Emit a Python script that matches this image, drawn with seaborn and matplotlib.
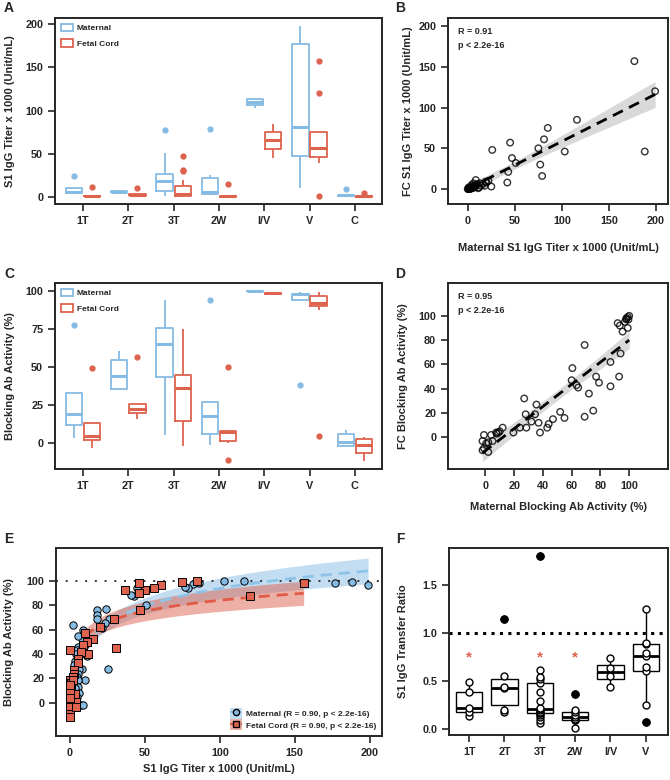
import numpy as np
import pandas as pd
import seaborn as sns
from matplotlib import pyplot as plt
from matplotlib.lines import Line2D
from matplotlib.patches import Patch

GROUPS = ["1T", "2T", "3T", "2W", "I/V", "V", "C"]
RATIO_GROUPS = ["1T", "2T", "3T", "2W", "I/V", "V"]
SOURCES = ["Maternal", "Fetal Cord"]
BLUE = "#86BCE4"
RED = "#DD634E"

# A: S1 IgG titer x 1000, one list per group (order of GROUPS)
titer_maternal = [
    [3, 3.5, 4.3, 4.8, 5.4, 7, 10.8, 11, 24],
    [5, 5.5, 6, 6.5, 7],
    [1.5, 4, 7, 12, 18.5, 22, 26.6, 51, 77],
    [2, 3, 4, 5, 6, 12, 21.6, 25, 79],
    [103, 106, 109.5, 113, 115],
    [10.8, 47.4, 81, 176.5, 198],
    [1, 1.2, 1.5, 1.8, 2, 2.2, 2.5, 3, 9],
]
titer_fetal = [
    [0.3, 0.5, 0.8, 1, 1.2, 1.5, 1.8, 2, 12],
    [1.5, 2, 2.2, 2.5, 2.8, 3, 3.3, 3.6, 10],
    [0.5, 0.8, 1, 1.2, 1.5, 2, 2.5, 3, 3.5, 5, 8, 10, 12.5, 20, 30, 31.5, 47],
    [0.3, 0.5, 0.6, 0.8, 1, 1.2, 1.5, 2, 15],
    [45, 55, 66, 75, 85],
    [1, 39, 46, 50, 57, 65, 75, 120, 157],
    [0.2, 0.4, 0.6, 0.8, 1, 1.2, 1.4, 1.6, 4.5],
]

# C: blocking Ab activity (%), one list per group
block_maternal = [
    [3.3, 8, 12, 15, 19.2, 26, 32.7, 32.7, 77.5],
    [35, 35.4, 44, 54.5, 60.6],
    [5.4, 43.6, 64.8, 75.7, 93.8],
    [-1.1, 3, 6, 12, 17.9, 25, 27.3, 27.6, 93.8],
    [99.5, 99.7, 99.8, 99.9, 100],
    [38.2, 93.5, 94.3, 96, 97.8, 98, 98.2, 99.5, 99.5],
    [-1.6, -1.6, 1, 5.9, 8.7],
]
block_fetal = [
    [-3.3, 0, 2.2, 3, 4.4, 8, 13, 13, 49.5],
    [15.7, 18, 19.6, 21, 22.7, 24, 26, 26, 56.7],
    [-2.2, 14.6, 36.4, 44.7, 75.3],
    [-11.4, 0, 1.5, 5, 7.3, 7.6, 8, 8, 50.2],
    [98, 98.2, 98.4, 98.6, 98.8],
    [4.8, 87.3, 89.9, 91, 92.2, 94, 96.5, 99.5, 99.5],
    [-12, -6.5, -1.3, 2.6, 3.9],
]

# B: paired titers
b_maternal = [177, 199, 188, 116, 85, 81, 75, 103, 77, 79, 45, 26, 47, 51, 43, 42,
              25, 8.5, 18, 22, 20, 0, 1, 2, 3, 1, 4, 5, 6, 2, 3, 5, 7, 8, 9, 10,
              12, 14, 6, 4, 0.5, 1.5, 2.5, 3.5, 11, 13, 16, 19]
b_fetal = [157, 120, 46, 85, 75, 61, 50, 46, 30, 16, 57, 48, 38, 32, 21, 8,
           3, 11, 4, 10, 8, 0, 0.5, 1, 1, 2, 2, 3, 4, 0, 0.5, 1, 2, 3, 5, 6,
           2, 4, 7, 5, 0, 1, 0.3, 2, 1, 7, 6, 9]

# D: paired blocking activity
d_maternal = [69, 60.5, 60, 63.4, 64.5, 72, 77, 79, 87, 94, 93, 87, 69, 75, 92, 93.5,
              95.4, 98, 99, 98, 99.5, 99, 97, 100, 27, 28, 24, 28.5, 35.5, 34.5, 37,
              38, 32, 43, 44, 47, 52, 55, 19.5, 12, 9, 7.5, 4, -1, -2, 2, 5, -2, -1,
              2, 0.5, 8, 10]
d_fetal = [76, 57, 47, 43, 41, 36, 50, 45, 62, 69, 50, 42, 17, 22, 94, 92,
           87, 97, 99, 98, 97, 90, 95, 100, 32, 19, 8, 8, 27, 19, 12,
           4, 13, 8, 11, 15, 21, 16, 4, 8, 4, 4, 2, 2, -3, -4, -3, -10.6, -9,
           -12, -5, 3, 5]

# E: titer vs blocking activity
e_mat_x = [199, 188, 177, 116, 103, 86, 82, 79, 77, 51, 47, 45, 43, 41, 26, 24, 23, 21,
           18, 18, 18, 25, 2, 8.5, 10, 7.8, 5, 5.5, 10, 10, 11, 8, 10, 4.5, 4, 3.5,
           2.5, 4.5, 6, 5, 4.5, 5, 5.5, 6, 4.5, 7, 8.5, 2, 3.5, 1, 0.5, 1.5, 3]
e_mat_y = [96, 99, 98, 99.5, 100, 98, 97, 94, 95, 80, 94, 94, 87, 88, 69, 77, 65, 61,
           76, 72, 69, 28, 64, 60, 53, 52, 55, 46, 47, 40, 38, 28, 19, 43, 40, 34,
           31, 28, 28, 24, 21, 18.6, 13, 8, 5, -2, -2, 10, 2, 0, 3, 6, 12]
e_fet_x = [156, 120, 85, 75, 61, 56, 50, 46, 46, 37, 47, 29, 31, 20, 15, 11, 10, 12,
           8.5, 7, 5, 5, 0.08, 2.5, 2.5, 2, 0.25, 0.4, 0.3, 0.2, 0.4, 0.2, 0.08, 0.4, 0.15,
           3.5, 4, 0.05, 0.12, 4, 2, 0.25, 0.12, 0.05]
e_fet_y = [98, 87, 100, 99, 96, 94, 92, 98, 90, 92, 76, 69, 45, 62, 52, 50, 57, 40,
           47, 42, 36, 33, 43, 27, 24, 21, 18.6, 16, 13, 10.4, 7.7, 5, 2.2, -0.5, -3.3,
           7.7, 1, -9, -11.5, -3, 19, 15, 8, 4]
e_labels = ["Maternal (R = 0.90, p < 2.2e-16)", "Fetal Cord (R = 0.90, p < 2.2e-16)"]

# F: S1 IgG transfer ratio per group (order of RATIO_GROUPS)
transfer_ratio = [
    [0.139, 0.174, 0.223, 0.384, 0.49],
    [0.181, 0.199, 0.425, 0.44, 0.554, 1.15],
    [0.063, 0.098, 0.125, 0.15, 0.164, 0.17, 0.18, 0.194, 0.206, 0.218, 0.288,
     0.387, 0.478, 0.52, 0.54, 0.617, 1.81],
    [0.014, 0.09, 0.094, 0.1, 0.129, 0.15, 0.181, 0.199, 0.366],
    [0.442, 0.55, 0.64, 0.739],
    [0.07, 0.248, 0.607, 0.65, 0.764, 0.79, 0.889, 0.9, 1.255],
]
sig_groups = ["1T", "3T", "2W"]
sig_level = 0.75


def long_frame(maternal, fetal):
    rows = []
    for src, series in zip(SOURCES, [maternal, fetal]):
        for grp, vals in zip(GROUPS, series):
            rows += [(grp, src, v) for v in vals]
    return pd.DataFrame(rows, columns=["group", "source", "value"])


def fit_band(x, y, start=None, tf=lambda v: v):
    # least squares fit y ~ a + b*tf(x), with 95% band for the mean
    x = np.array(x, float)
    y = np.array(y, float)
    tx = tf(x)
    slope, icpt = np.polyfit(tx, y, 1)
    resid = y - (icpt + slope * tx)
    s = np.sqrt(np.sum(resid ** 2) / (len(x) - 2))
    grid = np.linspace(x.min() if start is None else start, x.max(), 200)
    tg = tf(grid)
    se = s * np.sqrt(1 / len(x) + (tg - tx.mean()) ** 2 / np.sum((tx - tx.mean()) ** 2))
    return grid, icpt + slope * tg, 1.96 * se


def style(ax):
    for sp in ax.spines.values():
        sp.set_linewidth(1.4)
    ax.tick_params(length=5, width=1.2, labelsize=7.8, pad=3.5)


def label_pos(ax, xl=None, yl=None):
    if xl is not None:
        ax.xaxis.set_label_coords(0.5, xl)
        ax.xaxis.label.set_va("center")
    if yl is not None:
        ax.yaxis.set_label_coords(yl, 0.5)
        ax.yaxis.label.set_va("center")


def box_panel(ax, df, ylim, yticks, ylabel):
    sns.boxplot(data=df, x="group", y="value", hue="source", order=GROUPS,
                hue_order=SOURCES, palette=[BLUE, RED], fill=False, width=0.8,
                gap=0.1, linewidth=1.3, ax=ax,
                flierprops=dict(marker="o", markersize=3.5),
                medianprops=dict(linewidth=2.2),
                capprops=dict(visible=False))
    for ln in ax.lines:
        if ln.get_marker() == "o":
            ln.set_markerfacecolor(ln.get_markeredgecolor())
    ax.set_xlim(-0.62, 6.6)
    ax.set_ylim(*ylim)
    ax.set_yticks(yticks)
    ax.set_xlabel("")
    ax.set_ylabel(ylabel, fontsize=8)
    sns.move_legend(ax, "upper left", title=None, frameon=False, fontsize=6,
                    handlelength=1.4, handleheight=1.0, labelspacing=0.8,
                    borderaxespad=0.3, handletextpad=0.5)
    style(ax)


def scatter_panel(ax, x, y, lim, ticks, r_text, xlabel, ylabel):
    grid, pred, ci = fit_band(x, y)
    ax.fill_between(grid, pred - ci, pred + ci, color="black", alpha=0.15, linewidth=0)
    sns.regplot(x=np.array(x, float), y=np.array(y, float), ax=ax, color="black",
                ci=None, scatter_kws=dict(facecolors="none", edgecolors="black",
                                          s=22, linewidths=1),
                line_kws=dict(linestyle=(0, (4, 2.5)), linewidth=2))
    ax.set_xlim(*lim[0])
    ax.set_ylim(*lim[1])
    ax.set_xticks(ticks[0])
    ax.set_yticks(ticks[1])
    ax.set_xlabel(xlabel, fontsize=8)
    ax.set_ylabel(ylabel, fontsize=8)
    ax.text(0.045, 0.925, r_text, transform=ax.transAxes, fontsize=6.5, va="center")
    ax.text(0.045, 0.85, "p < 2.2e-16", transform=ax.transAxes, fontsize=6.5, va="center")
    style(ax)


sns.set_style("ticks")
plt.rcParams["font.family"] = ["Liberation Sans", "DejaVu Sans"]
plt.rcParams["font.weight"] = "bold"
plt.rcParams["axes.labelweight"] = "bold"

fig = plt.figure(figsize=(6.7, 7.8), dpi=100)


def rect(l, t, r, b):
    return [l / 670, 1 - b / 780, (r - l) / 670, (b - t) / 780]


axA = fig.add_axes(rect(55, 18, 382, 204))
axB = fig.add_axes(rect(448, 18, 668, 204))
axC = fig.add_axes(rect(55, 283, 382, 469))
axD = fig.add_axes(rect(448, 283, 668, 469))
axE = fig.add_axes(rect(56, 548, 382, 736))
axF = fig.add_axes(rect(449, 548, 668, 735))

# A, C
box_panel(axA, long_frame(titer_maternal, titer_fetal), (-8, 207), [0, 50, 100, 150, 200],
          "S1 IgG Titer x 1000 (Unit/mL)")
label_pos(axA, yl=-0.138)
box_panel(axC, long_frame(block_maternal, block_fetal), (-17, 105.2), [0, 25, 50, 75, 100],
          "Blocking Ab Activity (%)")
label_pos(axC, yl=-0.138)

# B, D
scatter_panel(axB, b_maternal, b_fetal, ((-21, 212.7), (-18.4, 210)),
              ([0, 50, 100, 150, 200], [0, 50, 100, 150, 200]), "R = 0.91",
              "Maternal S1 IgG Titer x 1000 (Unit/mL)", "FC S1 IgG Titer x 1000 (Unit/mL)")
label_pos(axB, xl=-0.238, yl=-0.182)
scatter_panel(axD, d_maternal, d_fetal, ((-26, 127), (-26, 127)),
              (np.arange(0, 101, 20), np.arange(0, 101, 20)), "R = 0.95",
              "Maternal Blocking Ab Activity (%)", "FC Blocking Ab Activity (%)")
label_pos(axD, xl=-0.204, yl=-0.2045)

# E
fits = [(e_mat_x, e_mat_y, BLUE, "#8EC3E8", "o", 28), (e_fet_x, e_fet_y, RED, "#E05A45", "s", 26)]
for x, y, col, lcol, mk, size in fits:
    grid, pred, ci = fit_band(x, y, start=10, tf=np.log)
    axE.fill_between(grid, pred - ci, pred + ci, color=col, alpha=0.5, linewidth=0)
for x, y, col, lcol, mk, size in fits:
    grid, pred, ci = fit_band(x, y, start=10, tf=np.log)
    sns.lineplot(x=grid, y=pred, ax=axE, color=lcol, linestyle=(0, (4, 2.5)),
                 linewidth=2, estimator=None)
axE.axhline(100, color="#333333", linestyle=(0, (1, 4)), linewidth=1.4, zorder=1)
for x, y, col, lcol, mk, size in fits:
    sns.scatterplot(x=x, y=y, ax=axE, color=col, marker=mk, s=size,
                    edgecolor="black", linewidth=0.7, zorder=3)
handles = [(Patch(facecolor=col, alpha=0.5, edgecolor="none"),
            Line2D([0], [0], color=lcol, linestyle="--", linewidth=1.5, marker=mk,
                   markerfacecolor=col, markeredgecolor="black", markersize=4.5))
           for x, y, col, lcol, mk, size in fits]
axE.legend(handles, e_labels, loc="lower right", frameon=False, fontsize=6,
           handlelength=1.5, handleheight=1.6, labelspacing=0.05,
           borderaxespad=0.3, handletextpad=0.4)
axE.set_xlim(-9.4, 208.3)
axE.set_ylim(-27, 126.6)
axE.set_xticks([0, 50, 100, 150, 200])
axE.set_yticks(np.arange(0, 101, 20))
axE.set_xlabel("S1 IgG Titer x 1000 (Unit/mL)", fontsize=8)
axE.set_ylabel("Blocking Ab Activity (%)", fontsize=8)
label_pos(axE, xl=-0.174, yl=-0.143)
style(axE)

# F
dfF = pd.DataFrame([(g, v) for g, vals in zip(RATIO_GROUPS, transfer_ratio) for v in vals],
                   columns=["group", "value"])
sns.boxplot(data=dfF, x="group", y="value", order=RATIO_GROUPS, color="white",
            linecolor="black", width=0.75, linewidth=1, ax=axF,
            flierprops=dict(marker="o", markersize=5, markerfacecolor="black", zorder=5),
            medianprops=dict(linewidth=2), capprops=dict(visible=False))
sns.stripplot(data=dfF, x="group", y="value", order=RATIO_GROUPS, jitter=False,
              color="white", edgecolor="black", linewidth=1, size=5, ax=axF, zorder=4)
axF.axhline(1.0, color="black", linestyle=(0, (1, 1.75)), linewidth=2.2, zorder=1)
for g in sig_groups:
    axF.text(RATIO_GROUPS.index(g), sig_level, "*", color=RED, fontsize=11,
             ha="center", va="center")
axF.set_xlim(-0.57, 5.63)
axF.set_ylim(-0.063, 1.89)
axF.set_yticks([0, 0.5, 1.0, 1.5])
axF.set_yticklabels(["0.0", "0.5", "1.0", "1.5"])
axF.set_xlabel("")
axF.set_ylabel("S1 IgG Transfer Ratio", fontsize=8)
label_pos(axF, yl=-0.21)
style(axF)

for letter, (px, py) in zip("ABCDEF", [(9, 7.5), (400, 7.5), (9.5, 273.5),
                                       (400, 274), (9, 539), (400, 539)]):
    fig.text(px / 670, 1 - py / 780, letter, fontsize=10, weight="bold",
             ha="center", va="center")

fig.savefig("out.png", dpi=100)
